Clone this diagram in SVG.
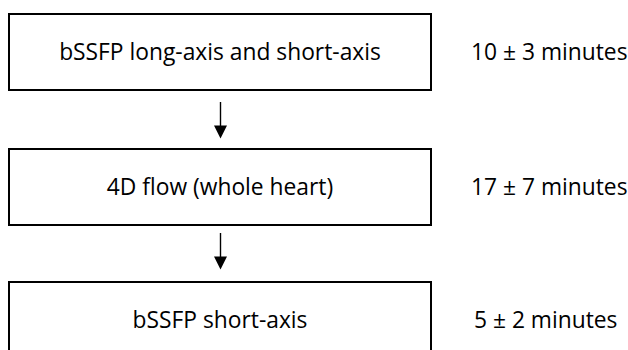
<svg xmlns="http://www.w3.org/2000/svg" width="628" height="350" viewBox="0 0 628 350">
<style>
.box{fill:#fff;stroke:#000;stroke-width:2}
.t{font-family:"Open Sans","Noto Sans",sans-serif;font-size:22.8px;fill:#000}
.c{text-anchor:middle}
.ln{stroke:#000;stroke-width:1.4;fill:none}
.hd{fill:#000}
</style>
<rect width="628" height="350" fill="#fff"/>
<g id="node1">
<rect class="box" x="9" y="14" width="422" height="76"/>
<text class="t c" x="220" y="60">bSSFP long-axis and short-axis</text>
</g>
<g id="node2">
<rect class="box" x="9" y="149" width="422" height="76"/>
<text class="t c" x="220" y="195">4D flow (whole heart)</text>
</g>
<g id="node3">
<rect class="box" x="9" y="282" width="422" height="76"/>
<text class="t c" x="220" y="328">bSSFP short-axis</text>
</g>
<g id="labels">
<text class="t" x="471" y="60">10 ± 3 minutes</text>
<text class="t" x="471" y="195">17 ± 7 minutes</text>
<text class="t" x="474" y="328">5 ± 2 minutes</text>
</g>
<g id="connectors">
<line class="ln" x1="220.5" y1="102" x2="220.5" y2="128"/>
<polygon class="hd" points="214,125.5 227,125.5 220.5,138.5"/>
<line class="ln" x1="220.5" y1="233" x2="220.5" y2="259"/>
<polygon class="hd" points="214,256.5 227,256.5 220.5,269.5"/>
</g>
</svg>
